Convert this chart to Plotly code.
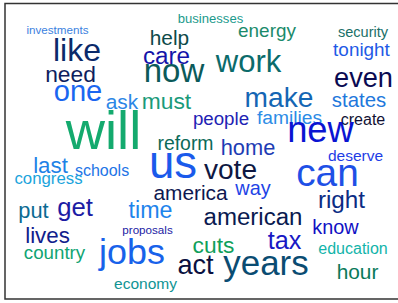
import plotly.graph_objects as go

# ---- data: words and their weights (weight drives font size) ----
words = ["investments", "businesses", "energy", "security", "tonight", "help", "like",
         "care", "work", "need", "now", "even", "one", "ask", "must", "make", "states",
         "people", "families", "create", "will", "new", "reform", "home", "deserve",
         "last", "schools", "us", "vote", "congress", "can", "america", "way", "right",
         "put", "get", "time", "american", "proposals", "know", "lives", "tax", "cuts",
         "education", "country", "jobs", "act", "years", "hour", "economy"]
weights = [12, 13.5, 19.5, 15, 19.5, 21.5, 33,
           25, 32, 23.5, 34, 28, 30, 21.5, 23.5, 29, 21,
           19.3, 19.8, 16.5, 56, 37.5, 20, 22.5, 16,
           23, 16.5, 47, 29, 17.3, 40, 21.5, 20.5, 25,
           22.5, 26.5, 24, 24.8, 12, 20.5, 23, 26, 23.5,
           16.5, 19.3, 37, 28, 36, 21.5, 16]

# ---- cloud layout (word placement in the 398x303 canvas) ----
place_x = [57.5, 210.5, 267, 363, 361.5, 169.5, 77,
           166.5, 248.5, 70.5, 174, 363.5, 78, 122, 166.5, 279, 359,
           221, 289.5, 363, 103.5, 320.5, 185.5, 248, 355.5,
           50.5, 102, 173, 230.5, 48.5, 327.5, 190.5, 253, 341.5,
           33.5, 75, 150.5, 253, 147.5, 335.5, 47.5, 284.5, 213.5,
           353, 54.5, 132, 195.5, 266, 357.5, 145.5]
place_y = [31.5, 19.8, 32, 33, 51.5, 40, 52.5,
           57.5, 64.5, 76.5, 74, 80, 94, 103.5, 103, 99.5, 102,
           120.8, 119, 120.8, 135.5, 133, 145.5, 149.5, 157.5,
           167.8, 171.7, 167, 172.3, 180, 176.5, 194.5, 190.2, 202,
           213, 209.7, 212.5, 218.5, 231.5, 229.5, 237.8, 243.2, 247.3,
           249.5, 254.2, 255.5, 267.7, 265.9, 274, 285.5]
colors = ["#3B7FE0", "#1A9A8C", "#1A8A6A", "#1A7068", "#1E5AE6", "#0E4A4A", "#0B2A6A",
          "#1414A8", "#0B6B6B", "#0E1E5E", "#0B5A5A", "#0A0A52", "#1A66F0", "#2C86E6",
          "#1A9A7A", "#1466B4", "#1E78DC", "#1E22B4", "#2C8CE6", "#111133", "#14AA6E",
          "#0A14D2", "#0B6A58", "#1E3CB4", "#1E3CE6", "#1E82E6", "#2274E6", "#1A5AEB",
          "#0E1842", "#1AA4DC", "#1E50E6", "#0E1850", "#1E44E6", "#0B2C84", "#0B6A92",
          "#1C1CA4", "#1E84EC", "#0A1A50", "#1C22A4", "#1010C4", "#10208C", "#1818C4",
          "#10A05A", "#12B4AA", "#10A472", "#1862EA", "#0A1040", "#0A4C72", "#0A7A5A",
          "#109494"]

size_scale = 0.97
sizes = [w * size_scale for w in weights]

fig = go.Figure()
fig.add_trace(go.Scatter(
    x=place_x, y=place_y, mode="text", text=words,
    textposition="middle center",
    textfont=dict(family="Arial, Liberation Sans, sans-serif", size=sizes, color=colors),
    hoverinfo="text", showlegend=False,
))

fig.add_shape(type="rect", xref="x", yref="y", x0=5, y0=3.5, x1=405, y1=299,
              line=dict(color="#333333", width=1.5), fillcolor="rgba(0,0,0,0)")

fig.update_layout(
    width=398, height=303,
    margin=dict(l=0, r=0, t=0, b=0),
    paper_bgcolor="white", plot_bgcolor="white",
    xaxis=dict(range=[0, 398], visible=False, fixedrange=True),
    yaxis=dict(range=[303, 0], visible=False, fixedrange=True),
)

fig.write_html(
    "out.html",
    config={"displayModeBar": False},
    post_script="document.body.style.margin='0';document.body.style.overflow='hidden';",
)
